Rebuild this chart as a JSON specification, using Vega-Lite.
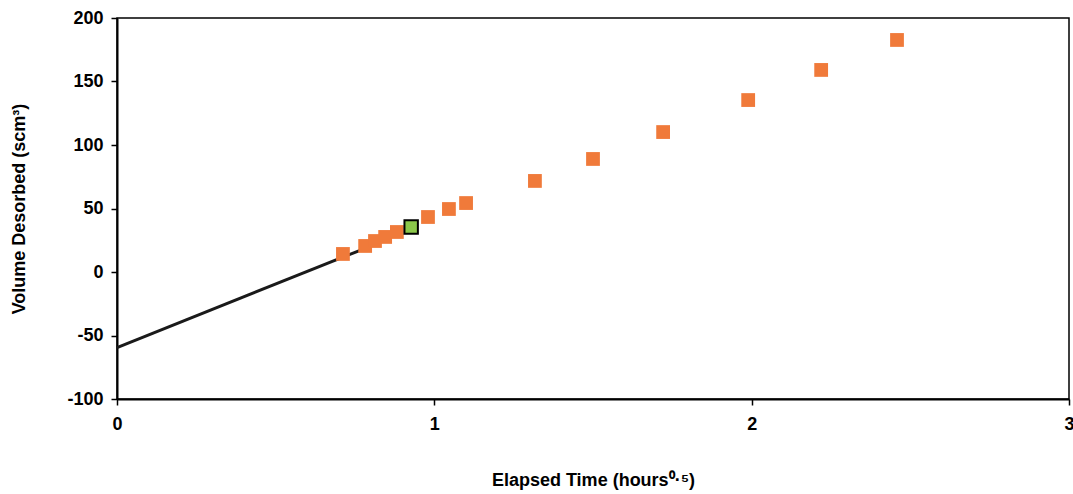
{
  "$schema": "https://vega.github.io/schema/vega-lite/v6.json",
  "width": 952,
  "height": 381,
  "autosize": "none",
  "padding": {"left": 117, "top": 18, "right": 4, "bottom": 95},
  "background": "white",
  "config": {
    "view": {"stroke": "black", "strokeWidth": 1.5},
    "font": "Liberation Sans",
    "axis": {
      "grid": false,
      "domainColor": "black",
      "domainWidth": 2,
      "tickColor": "black",
      "tickWidth": 1.5,
      "tickSize": 6,
      "labelFont": "Liberation Sans",
      "labelFontWeight": "bold",
      "labelFontSize": 18,
      "labelColor": "black",
      "titleFont": "Liberation Sans",
      "titleFontWeight": "bold",
      "titleFontSize": 18,
      "titleColor": "black"
    }
  },
  "datasets": {
    "pts": [
      {"t": 0.712, "v": 14.2, "kind": "data"},
      {"t": 0.782, "v": 20.5, "kind": "data"},
      {"t": 0.813, "v": 24.4, "kind": "data"},
      {"t": 0.845, "v": 27.6, "kind": "data"},
      {"t": 0.882, "v": 31.5, "kind": "data"},
      {"t": 0.98, "v": 43.3, "kind": "data"},
      {"t": 1.046, "v": 49.6, "kind": "data"},
      {"t": 1.1, "v": 54.3, "kind": "data"},
      {"t": 1.317, "v": 71.7, "kind": "data"},
      {"t": 1.5, "v": 89.0, "kind": "data"},
      {"t": 1.721, "v": 110.2, "kind": "data"},
      {"t": 1.989, "v": 135.4, "kind": "data"},
      {"t": 2.219, "v": 159.1, "kind": "data"},
      {"t": 2.458, "v": 182.7, "kind": "data"},
      {"t": 0.927, "v": 35.4, "kind": "selected"}
    ],
    "fit": [
      {"t": 0, "v": -59.5},
      {"t": 0.77, "v": 17.5}
    ]
  },
  "layer": [
    {
      "data": {"name": "fit"},
      "mark": {"type": "line", "color": "#1a1a1a", "strokeWidth": 3},
      "encoding": {
        "x": {"field": "t", "type": "quantitative", "scale": {"domain": [0, 3], "nice": false},
              "axis": {"values": [0, 1, 2, 3], "labelExpr": "'' + datum.value", "title": "Elapsed Time (hours⁰·⁵)", "titlePadding": 38, "labelPadding": 10, "labelFlush": false}},
        "y": {"field": "v", "type": "quantitative", "scale": {"domain": [-100, 200], "nice": false},
              "axis": {"values": [-100, -50, 0, 50, 100, 150, 200], "labelExpr": "'' + datum.value", "title": "Volume Desorbed (scm³)", "titlePadding": 38, "labelPadding": 8}}
      }
    },
    {
      "data": {"name": "pts"},
      "transform": [{"filter": "datum.kind === 'data'"}],
      "mark": {"type": "square", "size": 190, "color": "#f07a3a", "opacity": 1},
      "encoding": {
        "x": {"field": "t", "type": "quantitative"},
        "y": {"field": "v", "type": "quantitative"}
      }
    },
    {
      "data": {"name": "pts"},
      "transform": [{"filter": "datum.kind === 'selected'"}],
      "mark": {"type": "square", "size": 180, "fill": "#8cc84b", "stroke": "black", "strokeWidth": 2, "opacity": 1},
      "encoding": {
        "x": {"field": "t", "type": "quantitative"},
        "y": {"field": "v", "type": "quantitative"}
      }
    }
  ]
}
